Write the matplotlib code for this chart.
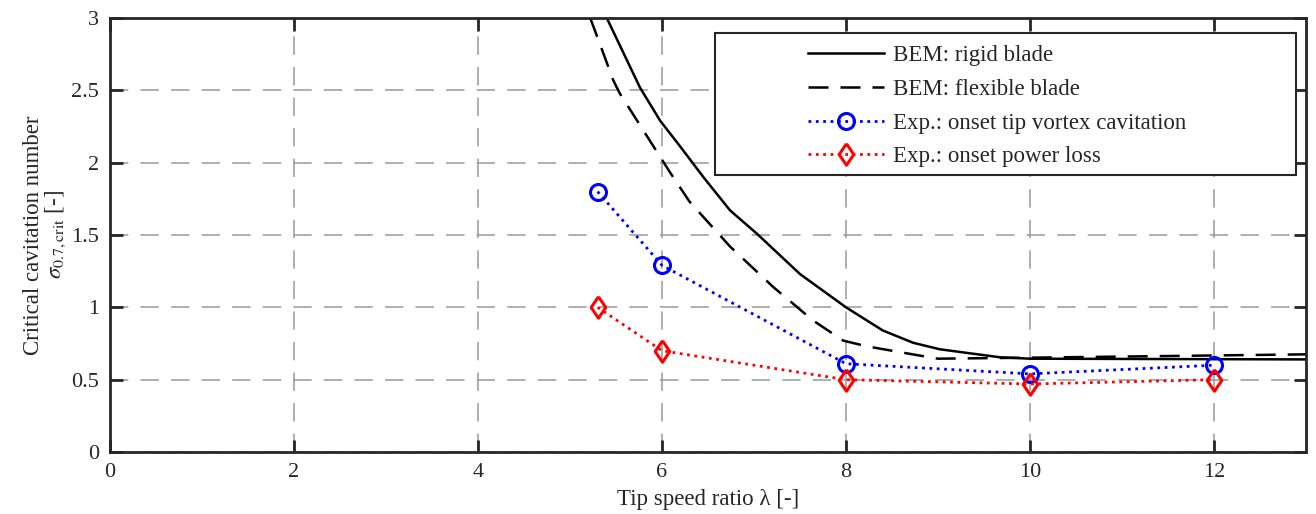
import matplotlib.pyplot as plt
from matplotlib.patches import Rectangle

plt.rcParams['font.family'] = ['Liberation Serif', 'DejaVu Serif']
plt.rcParams['mathtext.fontset'] = 'stix'

# BEM curves
rigid_x = [5.40, 5.58, 5.76, 5.98, 6.20, 6.45, 6.74, 7.03, 7.50, 8.00, 8.40, 8.73,
           9.02, 9.67, 10.0, 13.0]
rigid_y = [3.00, 2.76, 2.52, 2.29, 2.11, 1.90, 1.67, 1.51, 1.23, 1.00, 0.84, 0.755,
           0.71, 0.655, 0.645, 0.64]

flex_x = [5.22, 5.36, 5.47, 5.54, 5.73, 5.91, 6.09, 6.30, 6.74, 7.21, 7.64, 7.97,
          8.23, 8.59, 8.95, 9.0, 10.0, 13.0]
flex_y = [3.00, 2.76, 2.57, 2.48, 2.29, 2.11, 1.93, 1.73, 1.42, 1.14, 0.91, 0.77,
          0.73, 0.69, 0.65, 0.645, 0.652, 0.675]

# experiments
exp_x = [5.3, 6, 8, 10, 12]
tip_vortex = [1.80, 1.29, 0.61, 0.54, 0.60]
power_loss = [1.00, 0.70, 0.50, 0.47, 0.50]

labels = ['BEM: rigid blade', 'BEM: flexible blade',
          'Exp.: onset tip vortex cavitation', 'Exp.: onset power loss']

# matlab-like diamond (a bit narrower than tall)
diamond = [(0, 1), (0.68, 0), (0, -1), (-0.68, 0), (0, 1)]

fig = plt.figure(figsize=(13.16, 5.14), dpi=100)
ax = fig.add_axes([110 / 1316, 1 - 452 / 514, 1196 / 1316, 434 / 514])

ax.plot(rigid_x, rigid_y, color='black', lw=1.8, label=labels[0])
ax.plot(flex_x, flex_y, color='black', lw=1.8, dashes=(8, 4.8), label=labels[1])
ax.plot(exp_x, tip_vortex, color='blue', ls=':', lw=2, marker='o', ms=11.5,
        mfc='none', mew=2.2, label=labels[2])
ax.plot(exp_x, power_loss, color='red', ls=':', lw=2, marker=diamond, ms=15.5,
        mfc='none', mew=2.2, label=labels[3])

ax.set_xlim(0, 13)
ax.set_ylim(0, 3)
ax.set_xticks([0, 2, 4, 6, 8, 10, 12])
ax.set_yticks([0, 0.5, 1, 1.5, 2, 2.5, 3])
ax.set_yticklabels(['0', '0.5', '1', '1.5', '2', '2.5', '3'])

ax.grid(True, color='#999999', lw=1.1, dashes=(12, 8))
ax.set_axisbelow(True)

for s in ax.spines.values():
    s.set_linewidth(2.0)
    s.set_color('#262626')
ax.tick_params(direction='in', length=9, width=2.0, color='#262626',
               top=True, right=True, labelsize=16, labelcolor='#262626', pad=8)

ax.set_xlabel('Tip speed ratio λ [-]', fontsize=16.5, color='#262626', labelpad=5)
ax.set_ylabel('Critical cavitation number\n$\\sigma_{0.7\\mathrm{,crit}}$ [-]',
              fontsize=16.5, color='#262626', labelpad=2, linespacing=1.0)

# legend: content without frame, frame drawn as a box
leg = ax.legend(loc='center left', bbox_to_anchor=(0.5836, 0.797), frameon=False,
                borderpad=0, handlelength=3.3, handletextpad=0.4, labelspacing=0.56,
                fontsize=16.5, borderaxespad=0)
for t in leg.get_texts():
    t.set_color('#262626')
ax.add_patch(Rectangle((0.506, 0.638), 0.4856, 0.3274, transform=ax.transAxes,
                       facecolor='white', edgecolor='#262626', lw=1.5, zorder=4))
leg.set_zorder(5)

fig.savefig('out.png', dpi=100)
